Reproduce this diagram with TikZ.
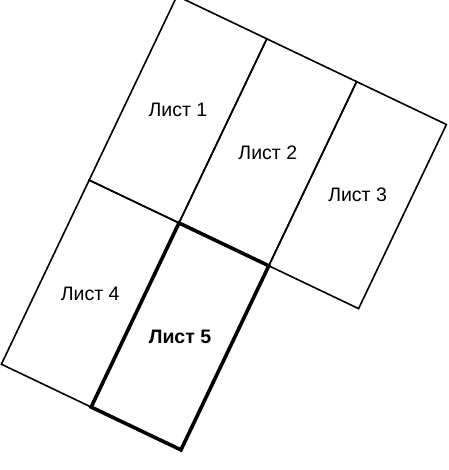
\documentclass[tikz,border=0pt]{standalone}
\usepackage{fontspec}
\setmainfont{Liberation Sans}
\usetikzlibrary{positioning}

\begin{document}
\begin{tikzpicture}[x=1pt,y=1pt,
    sheet/.style={draw,line width=1.6pt,minimum width=99.5pt,minimum height=204pt,
                  inner sep=0pt,outer sep=0pt,transform shape},
    sheetthick/.style={sheet,line width=3.6pt},
    sheettext/.style={font=\fontsize{19.5}{23}\selectfont}]
  \useasboundingbox (0,0) rectangle (448,470);
  \begin{scope}[shift={(177,474)},rotate=-25.5]
    \node[sheet] (s1) at (49.75,-102) {};
    \node[sheet] (s2) at (149.25,-102) {};
    \node[sheet] (s3) at (248.75,-102) {};
    \node[sheet] (s4) at (49.75,-306) {};
    \node[sheetthick] (s5) at (149.25,-306) {};
  \end{scope}
  \node[sheettext] (t1) at (s1.center) {Лист 1};
  \node[sheettext] (t2) at (s2.center) {Лист 2};
  \node[sheettext] (t3) at (s3.center) {Лист 3};
  \node[sheettext] (t4) at (s4.center) {Лист 4};
  \node[sheettext,font=\fontsize{19.5}{23}\selectfont\bfseries] (t5) at (s5.center) {Лист 5};
\end{tikzpicture}
\end{document}
